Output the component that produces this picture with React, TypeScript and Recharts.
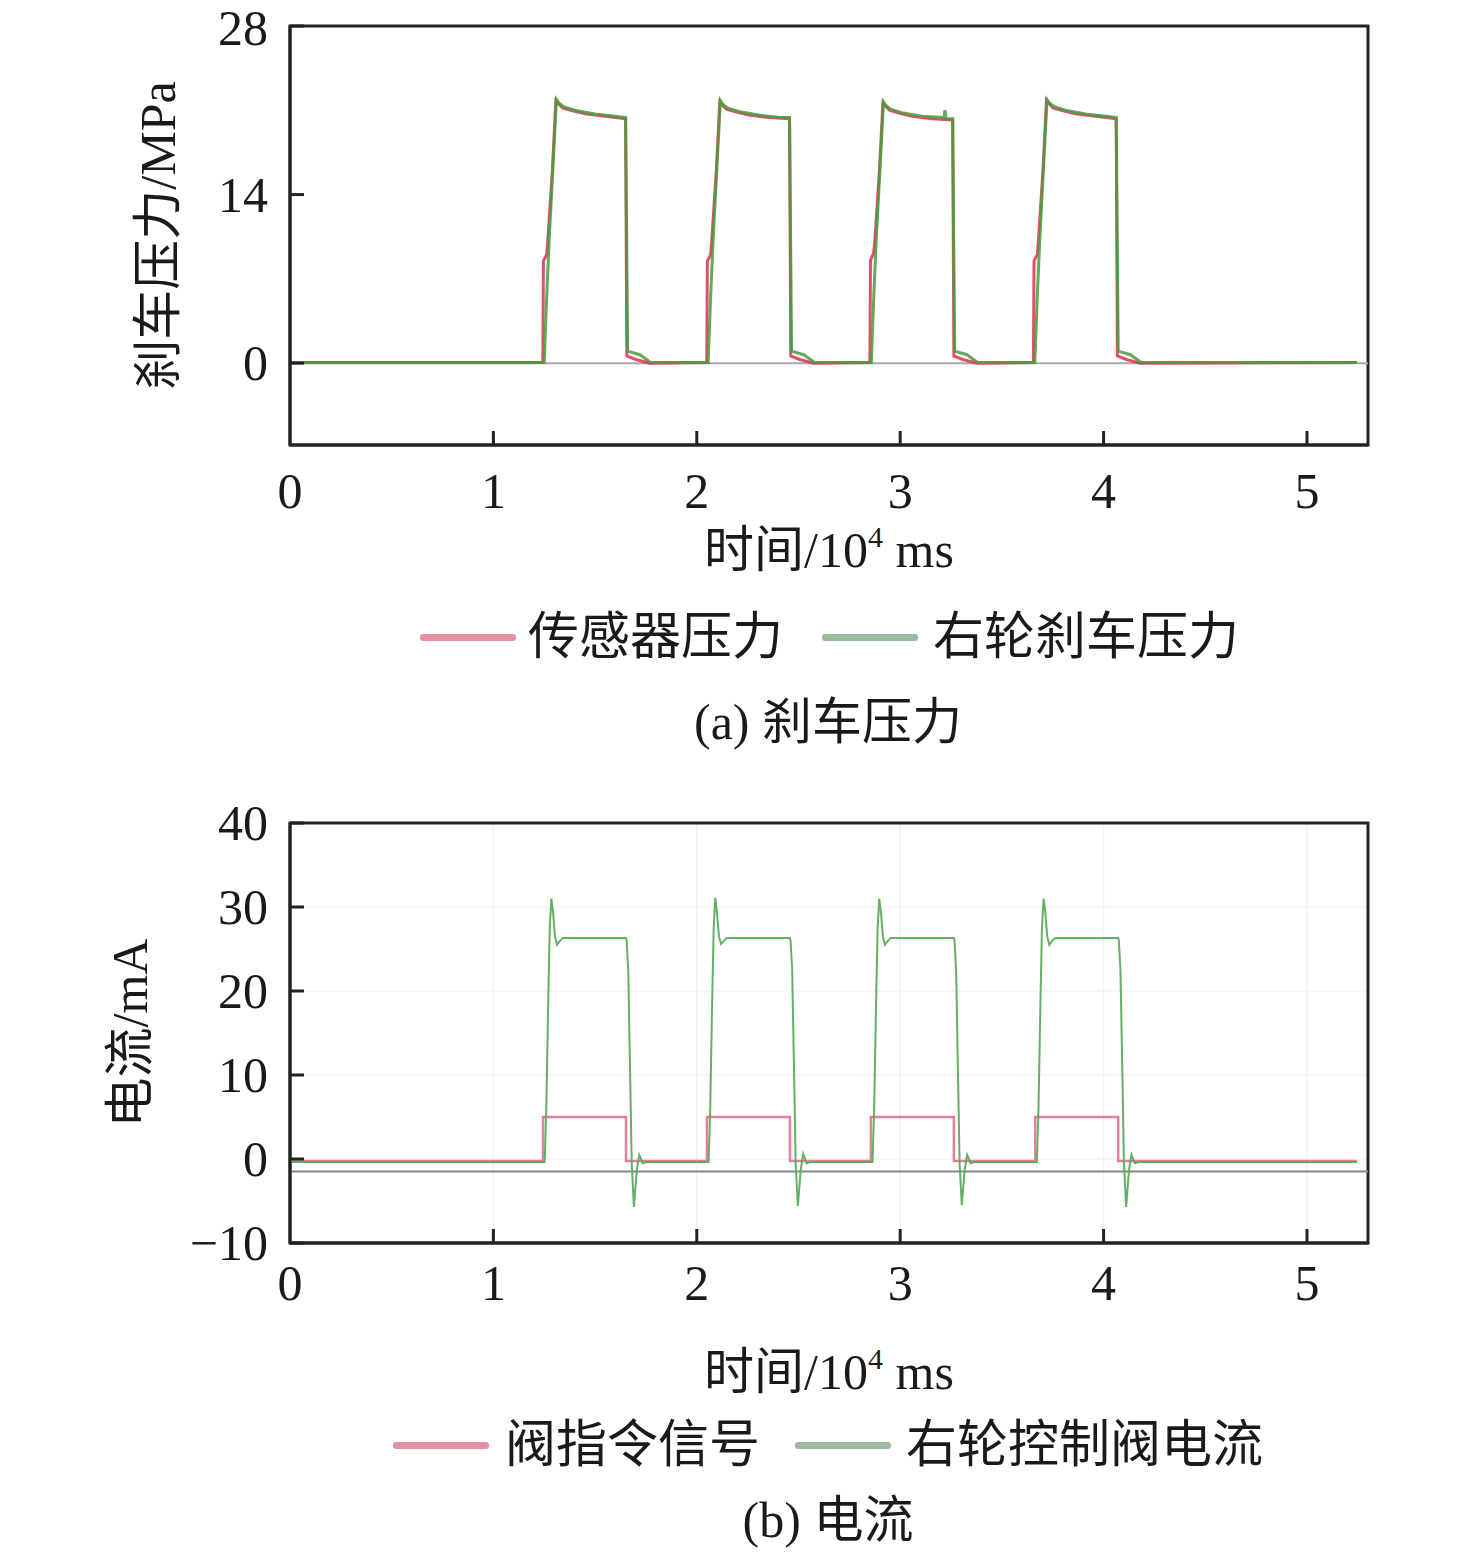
import React from "react";
import { LineChart, Line, XAxis, YAxis, ReferenceLine, ReferenceArea, CartesianGrid, Label } from "recharts";

// (a) brake pressure, time in 10^4 ms
const sensorTime = [
  0.01, 1.243, 1.246, 1.262, 1.268, 1.29, 1.307, 1.322, 1.34, 1.38, 1.45, 1.55, 1.65, 1.656, 1.7, 1.77,
  2.049, 2.052, 2.068, 2.074, 2.096, 2.113, 2.128, 2.146, 2.186, 2.256, 2.356, 2.456, 2.462, 2.506, 2.576,
  2.851, 2.854, 2.87, 2.876, 2.898, 2.915, 2.93, 2.948, 2.988, 3.058, 3.158, 3.258, 3.264, 3.308, 3.378,
  3.655, 3.658, 3.674, 3.68, 3.702, 3.719, 3.734, 3.752, 3.792, 3.862, 3.962, 4.062, 4.068, 4.112, 4.182,
  5.246,
];
const sensorPressure = [
  0.05, 0.05, 8.5, 9.0, 10.3, 16, 21.8, 21.5, 21.2, 21.0, 20.7, 20.5, 20.3, 0.6, 0.3, 0.0,
  0.05, 8.5, 9.0, 10.3, 16, 21.7, 21.4, 21.1, 20.9, 20.6, 20.4, 20.3, 0.6, 0.3, 0.0,
  0.05, 8.5, 9.2, 10.3, 16, 21.6, 21.3, 21.0, 20.8, 20.5, 20.3, 20.2, 0.6, 0.3, 0.0,
  0.05, 8.5, 9.0, 10.3, 16, 21.8, 21.5, 21.2, 21.0, 20.7, 20.5, 20.3, 0.6, 0.3, 0.0,
  0.05,
];
const wheelTime = [
  0.01, 1.25, 1.262, 1.275, 1.31, 1.322, 1.345, 1.4, 1.5, 1.6, 1.65, 1.66, 1.72, 1.773,
  2.056, 2.068, 2.081, 2.116, 2.128, 2.151, 2.206, 2.306, 2.406, 2.456, 2.466, 2.526, 2.579,
  2.858, 2.87, 2.883, 2.918, 2.93, 2.953, 3.008, 3.108, 3.215, 3.22, 3.226, 3.258, 3.268, 3.328, 3.381,
  3.662, 3.674, 3.687, 3.722, 3.734, 3.757, 3.812, 3.912, 4.012, 4.062, 4.072, 4.132, 4.185,
  5.246,
];
const wheelPressure = [
  0.05, 0.05, 5.5, 10.5, 21.9, 21.6, 21.3, 21.0, 20.7, 20.5, 20.4, 1.0, 0.7, 0.05,
  0.05, 5.5, 10.5, 21.8, 21.5, 21.2, 20.9, 20.6, 20.4, 20.4, 1.0, 0.7, 0.05,
  0.05, 5.5, 10.5, 21.7, 21.4, 21.1, 20.8, 20.5, 20.4, 21.0, 20.3, 20.3, 1.0, 0.7, 0.05,
  0.05, 5.5, 10.5, 21.9, 21.6, 21.3, 21.0, 20.7, 20.5, 20.4, 1.0, 0.7, 0.05,
  0.05,
];

// (b) current
const commandTime = [
  0.01, 1.244, 1.244, 1.652, 1.652, 2.05, 2.05, 2.458, 2.458, 2.856, 2.856, 3.264, 3.264, 3.664, 3.664, 4.072, 4.072, 5.246,
];
const commandSignal = [
  -0.25, -0.25, 5, 5, -0.25, -0.25, 5, 5, -0.25, -0.25, 5, 5, -0.25, -0.25, 5, 5, -0.25, -0.25,
];
const valveTime = [
  0.01,
  1.252, 1.26, 1.269, 1.277, 1.285, 1.293, 1.303, 1.313, 1.328, 1.342, 1.652, 1.655, 1.663, 1.672, 1.68, 1.691, 1.705, 1.717, 1.734, 1.754,
  2.058, 2.066, 2.075, 2.083, 2.091, 2.099, 2.109, 2.119, 2.134, 2.148, 2.458, 2.461, 2.469, 2.478, 2.486, 2.497, 2.511, 2.523, 2.54, 2.56,
  2.864, 2.872, 2.881, 2.889, 2.897, 2.905, 2.915, 2.925, 2.94, 2.954, 3.264, 3.267, 3.275, 3.284, 3.292, 3.303, 3.317, 3.329, 3.346, 3.366,
  3.672, 3.68, 3.689, 3.697, 3.705, 3.713, 3.723, 3.733, 3.748, 3.762, 4.072, 4.075, 4.083, 4.092, 4.1, 4.111, 4.125, 4.137, 4.154, 4.174,
  5.246,
];
const valveCurrent = [
  -0.35,
  -0.35, 6, 18, 27.5, 31, 29.5, 26.5, 25.5, 26.0, 26.3, 26.3, 26.0, 22.5, 10.6, -0.5, -5.7, -1.3, 0.5, -0.5, -0.35,
  -0.35, 6, 18, 27.5, 31.1, 29.4, 26.5, 25.6, 26.0, 26.3, 26.3, 26.0, 22.5, 10.6, -0.5, -5.6, -1.3, 0.6, -0.5, -0.35,
  -0.35, 6, 18, 27.5, 31, 29.5, 26.5, 25.5, 26.0, 26.3, 26.3, 26.0, 22.5, 10.6, -0.5, -5.5, -1.3, 0.5, -0.5, -0.35,
  -0.35, 6, 18, 27.5, 31, 29.5, 26.5, 25.5, 26.0, 26.3, 26.3, 26.0, 22.5, 10.6, -0.5, -5.7, -1.3, 0.5, -0.5, -0.35,
  -0.35,
];

const xTicks = [0, 1, 2, 3, 4, 5];
const pressureTicks = [0, 14, 28];
const currentTicks = [-10, 0, 10, 20, 30, 40];

const X_MAX = 5.3;
const P_DOMAIN = [-6.8, 28];
const I_DOMAIN = [-10, 40];

const FONT = "'Liberation Serif', 'Times New Roman', 'Noto Sans CJK SC', serif";
const INK = "#1a1a1a";
const AXIS = "#222";

const zip = (t: number[], v: number[]) => t.map((x, i) => ({ t: x, v: v[i] }));

const fmt = (v: number) => (v < 0 ? "\u2212" + Math.abs(v) : String(v));

const YTick = (props: any) => {
  const { x, y, payload } = props;
  // the topmost label of the first panel sits against the page edge
  const dy = y < 40 ? 19 : 17;
  return (
    <g>
      <line x1={x + 22} x2={x + 36} y1={y} y2={y} stroke={AXIS} strokeWidth={3} />
      <text x={x} y={y} dy={dy} textAnchor="end" fontSize={50} fontFamily={FONT} fill={INK}>
        {fmt(payload.value)}
      </text>
    </g>
  );
};

const makeXTick = (off: number) => (props: any) => {
  const { x, y, payload } = props;
  return (
    <g>
      {payload.value > 0 && <line x1={x} x2={x} y1={y} y2={y - 14} stroke={AXIS} strokeWidth={3} />}
      <text x={x} y={y + off} textAnchor="middle" fontSize={50} fontFamily={FONT} fill={INK}>
        {payload.value}
      </text>
    </g>
  );
};

const makeXTitle = (off: number) => (props: any) => {
  const vb = props.viewBox || {};
  return (
    <text x={vb.x + vb.width / 2} y={vb.y + off} textAnchor="middle" fontSize={50} fontFamily={FONT} fill={INK}>
      时间/10
      <tspan fontSize={30} dy={-20}>4</tspan>
      <tspan dy={20}> ms</tspan>
    </text>
  );
};

const makeYTitle = (text: string, cx: number) => (props: any) => {
  const vb = props.viewBox || {};
  const cy = vb.y + vb.height / 2;
  return (
    <text
      x={cx}
      y={cy}
      transform={`rotate(-90 ${cx} ${cy})`}
      textAnchor="middle"
      dominantBaseline="central"
      fontSize={50}
      fontFamily={FONT}
      fill={INK}
    >
      {text}
    </text>
  );
};

const LegendRow = ({ top, items }: { top: number; items: { x: number; tx: number; color: string; label: string }[] }) => (
  <>
    {items.map((it) => (
      <React.Fragment key={it.label}>
        <div
          style={{
            position: "absolute",
            left: it.x,
            top: top - 3,
            width: 96,
            height: 7,
            borderRadius: 3,
            background: it.color,
          }}
        />
        <div
          style={{
            position: "absolute",
            left: it.tx,
            top: top - 30,
            fontSize: 51,
            lineHeight: "60px",
            fontFamily: FONT,
            color: INK,
            whiteSpace: "nowrap",
          }}
        >
          {it.label}
        </div>
      </React.Fragment>
    ))}
  </>
);

const Caption = ({ top, text }: { top: number; text: string }) => (
  <div
    style={{
      position: "absolute",
      left: 0,
      width: 1656,
      top: top - 30,
      textAlign: "center",
      fontSize: 50,
      lineHeight: "60px",
      fontFamily: FONT,
      color: INK,
      whiteSpace: "nowrap",
    }}
  >
    {text}
  </div>
);

export default function App() {
  const sensorData = zip(sensorTime, sensorPressure);
  const wheelData = zip(wheelTime, wheelPressure);
  const commandData = zip(commandTime, commandSignal);
  const valveData = zip(valveTime, valveCurrent);

  return (
    <div style={{ position: "absolute", left: 0, top: 0, width: 1476, height: 1553, background: "#fff" }}>
      <div style={{ position: "absolute", left: 0, top: 0 }}>
        <LineChart width={1476} height={600} margin={{ top: 26, right: 108, left: 0, bottom: 0 }} style={{ overflow: "visible" }}>
          <XAxis
            dataKey="t"
            type="number"
            domain={[0, X_MAX]}
            ticks={xTicks}
            allowDataOverflow
            height={155}
            tickSize={0}
            tickMargin={0}
            tickLine={false}
            tick={makeXTick(63)}
            axisLine={{ stroke: AXIS, strokeWidth: 3 }}
          >
            <Label content={makeXTitle(122)} />
          </XAxis>
          <YAxis
            type="number"
            domain={P_DOMAIN}
            ticks={pressureTicks}
            allowDataOverflow
            width={290}
            tickSize={0}
            tickMargin={22}
            tickLine={false}
            tick={YTick}
            axisLine={{ stroke: AXIS, strokeWidth: 3 }}
          >
            <Label content={makeYTitle("刹车压力/MPa", 158)} />
          </YAxis>
          <ReferenceLine y={0} stroke="#a8a8a8" strokeWidth={2} />
          <Line data={sensorData} dataKey="v" type="linear" stroke="#d8324e" strokeOpacity={0.85} strokeWidth={3} dot={false} isAnimationActive={false} />
          <Line data={wheelData} dataKey="v" type="linear" stroke="#4a9a3e" strokeOpacity={0.85} strokeWidth={3} dot={false} isAnimationActive={false} />
          <ReferenceArea x1={0} x2={X_MAX} y1={P_DOMAIN[0]} y2={P_DOMAIN[1]} fill="none" fillOpacity={0} stroke={AXIS} strokeWidth={3} strokeOpacity={1} />
        </LineChart>
      </div>

      <LegendRow
        top={637}
        items={[
          { x: 420, tx: 528, color: "#e3919f", label: "传感器压力" },
          { x: 822, tx: 933, color: "#9cbaa0", label: "右轮刹车压力" },
        ]}
      />
      <Caption top={722} text="(a) 刹车压力" />

      <div style={{ position: "absolute", left: 0, top: 770 }}>
        <LineChart width={1476} height={647} margin={{ top: 53, right: 108, left: 0, bottom: 0 }}>
          <CartesianGrid stroke="#f0f3f6" strokeWidth={1.5} />
          <XAxis
            dataKey="t"
            type="number"
            domain={[0, X_MAX]}
            ticks={xTicks}
            allowDataOverflow
            height={174}
            tickSize={0}
            tickMargin={0}
            tickLine={false}
            tick={makeXTick(57)}
            axisLine={{ stroke: AXIS, strokeWidth: 3 }}
          >
            <Label content={makeXTitle(146)} />
          </XAxis>
          <YAxis
            type="number"
            domain={I_DOMAIN}
            ticks={currentTicks}
            allowDataOverflow
            width={290}
            tickSize={0}
            tickMargin={22}
            tickLine={false}
            tick={YTick}
            axisLine={{ stroke: AXIS, strokeWidth: 3 }}
          >
            <Label content={makeYTitle("电流/mA", 130)} />
          </YAxis>
          <ReferenceLine y={-1.5} stroke="#858585" strokeWidth={2} />
          <Line data={commandData} dataKey="v" type="linear" stroke="#e5809a" strokeWidth={2.5} dot={false} isAnimationActive={false} />
          <Line data={valveData} dataKey="v" type="linear" stroke="#54a656" strokeOpacity={0.9} strokeWidth={2} dot={false} isAnimationActive={false} />
          <ReferenceArea x1={0} x2={X_MAX} y1={I_DOMAIN[0]} y2={I_DOMAIN[1]} fill="none" fillOpacity={0} stroke={AXIS} strokeWidth={3} strokeOpacity={1} />
        </LineChart>
      </div>

      <LegendRow
        top={1445}
        items={[
          { x: 393, tx: 505, color: "#e3919f", label: "阀指令信号" },
          { x: 795, tx: 906, color: "#9cbaa0", label: "右轮控制阀电流" },
        ]}
      />
      <Caption top={1520} text="(b) 电流" />
    </div>
  );
}
